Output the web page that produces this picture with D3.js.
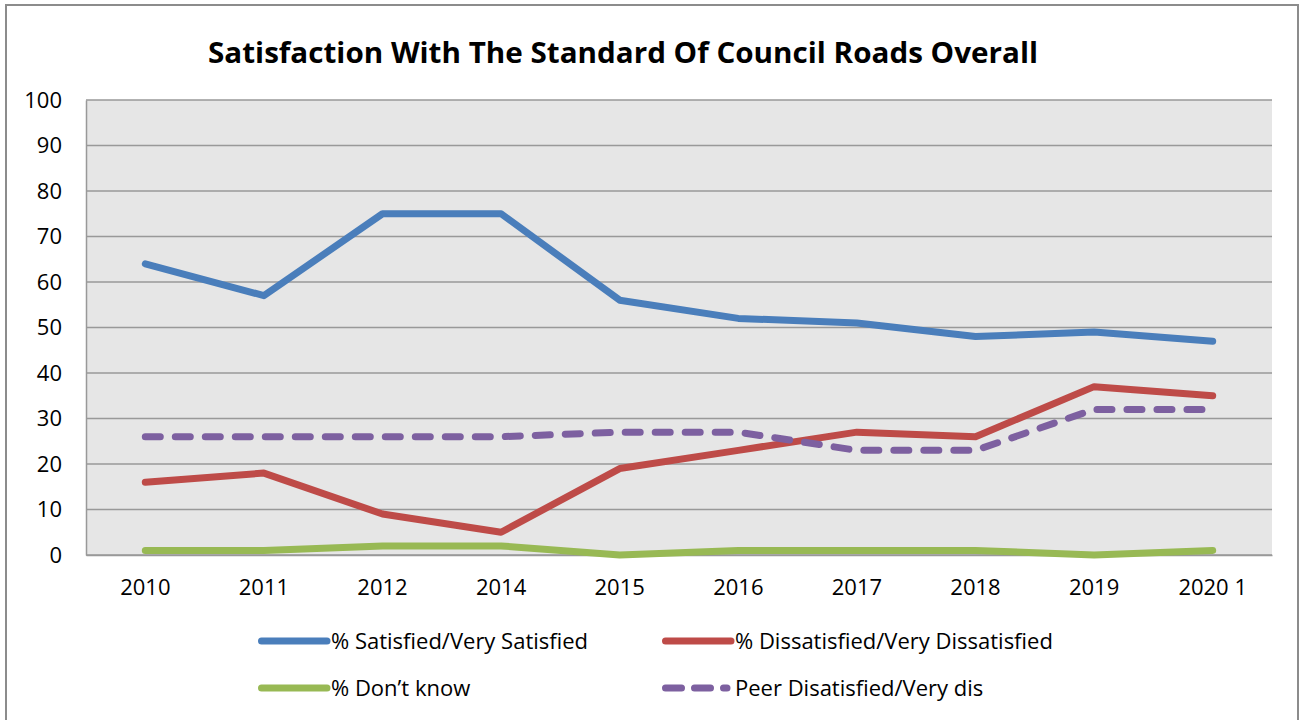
<!DOCTYPE html>
<html lang="en">
<head>
<meta charset="UTF-8">
<title>Satisfaction With The Standard Of Council Roads Overall</title>
<style>
    body { margin: 0; background: #fff; font-family: "Open Sans", "Liberation Sans", sans-serif; }
</style>
</head>
<body>
<svg id="chart" width="1304" height="720"></svg>
<script src="https://d3js.org/d3.v7.min.js"></script>
<script>
    // data
    const years = ["2010", "2011", "2012", "2014", "2015", "2016", "2017", "2018", "2019", "2020 1"];
    const satisfied = [64, 57, 75, 75, 56, 52, 51, 48, 49, 47];
    const dissatisfied = [16, 18, 9, 5, 19, 23, 27, 26, 37, 35];
    const dontKnow = [1, 1, 2, 2, 0, 1, 1, 1, 0, 1];
    const peer = [26, 26, 26, 26, 27, 27, 23, 23, 32, 32];
    const yTicks = [0, 10, 20, 30, 40, 50, 60, 70, 80, 90, 100];

    const series = [
        { name: "% Satisfied/Very Satisfied", values: satisfied, color: "#4a7ebb", dash: null },
        { name: "% Dissatisfied/Very Dissatisfied", values: dissatisfied, color: "#be4b48", dash: null },
        { name: "% Don\u2019t know", values: dontKnow, color: "#98b954", dash: null },
        { name: "Peer Disatisfied/Very dis", values: peer, color: "#7d60a0", dash: "15,15" }
    ];

    const svg = d3.select("#chart");
    const plotLeft = 86, plotRight = 1272, plotTop = 100, plotBottom = 555;
    const font = "'Open Sans', sans-serif";

    // outer frame
    svg.append("rect")
        .attr("x", 6).attr("y", 5)
        .attr("width", 1292).attr("height", 720)
        .attr("fill", "#fff")
        .attr("stroke", "#8c8c8c")
        .attr("stroke-width", 2);

    svg.append("text")
        .attr("x", 623).attr("y", 63)
        .attr("text-anchor", "middle")
        .attr("font-size", 29)
        .attr("font-weight", "bold")
        .attr("textLength", 830)
        .attr("lengthAdjust", "spacingAndGlyphs")
        .attr("fill", "#000")
        .text("Satisfaction With The Standard Of Council Roads Overall");

    const x = d3.scaleBand().domain(years).range([plotLeft, plotRight]);
    const y = d3.scaleLinear().domain([0, 100]).range([plotBottom, plotTop]);

    svg.append("rect")
        .attr("x", plotLeft).attr("y", plotTop)
        .attr("width", plotRight - plotLeft).attr("height", plotBottom - plotTop)
        .attr("fill", "#e6e6e6");

    // gridlines
    svg.append("g")
        .selectAll("line")
        .data(yTicks)
        .join("line")
        .attr("x1", plotLeft).attr("x2", plotRight)
        .attr("y1", d => y(d)).attr("y2", d => y(d))
        .attr("stroke", "#999")
        .attr("stroke-width", 1.5);

    const yAxis = svg.append("g")
        .attr("transform", `translate(${plotLeft},0)`)
        .call(d3.axisLeft(y).tickValues(yTicks).tickSize(0).tickPadding(24));
    yAxis.select(".domain").attr("stroke", "#999").attr("stroke-width", 1.5);
    yAxis.selectAll("text").attr("font-size", 22).attr("font-family", font).attr("fill", "#000");

    const xAxis = svg.append("g")
        .attr("transform", `translate(0,${plotBottom})`)
        .call(d3.axisBottom(x).tickSize(0).tickPadding(24));
    xAxis.select(".domain").attr("stroke", "#999").attr("stroke-width", 1.5);
    xAxis.selectAll("text").attr("font-size", 22).attr("font-family", font).attr("fill", "#000");

    const line = d3.line()
        .x((d, i) => x(years[i]) + x.bandwidth() / 2)
        .y(d => y(d));

    series.forEach(s => {
        svg.append("path")
            .datum(s.values)
            .attr("d", line)
            .attr("fill", "none")
            .attr("stroke", s.color)
            .attr("stroke-width", 7)
            .attr("stroke-linejoin", "round")
            .attr("stroke-linecap", "round")
            .attr("stroke-dasharray", s.dash);
    });

    // legend, two rows of two
    const legendPos = [[258, 641], [662, 641], [258, 688], [662, 688]];
    series.forEach((s, i) => {
        const [lx, ly] = legendPos[i];
        const g = svg.append("g").attr("transform", `translate(${lx},${ly})`);
        g.append("line")
            .attr("x1", 3.5).attr("x2", s.dash ? 65 : 69)
            .attr("y1", 0).attr("y2", 0)
            .attr("stroke", s.color)
            .attr("stroke-width", 7)
            .attr("stroke-linecap", "round")
            .attr("stroke-dasharray", s.dash ? "16,13" : null);
        g.append("text")
            .attr("x", 73).attr("y", 8)
            .attr("font-size", 22)
            .attr("font-family", font)
            .attr("fill", "#000")
            .text(s.name);
    });
</script>
</body>
</html>
